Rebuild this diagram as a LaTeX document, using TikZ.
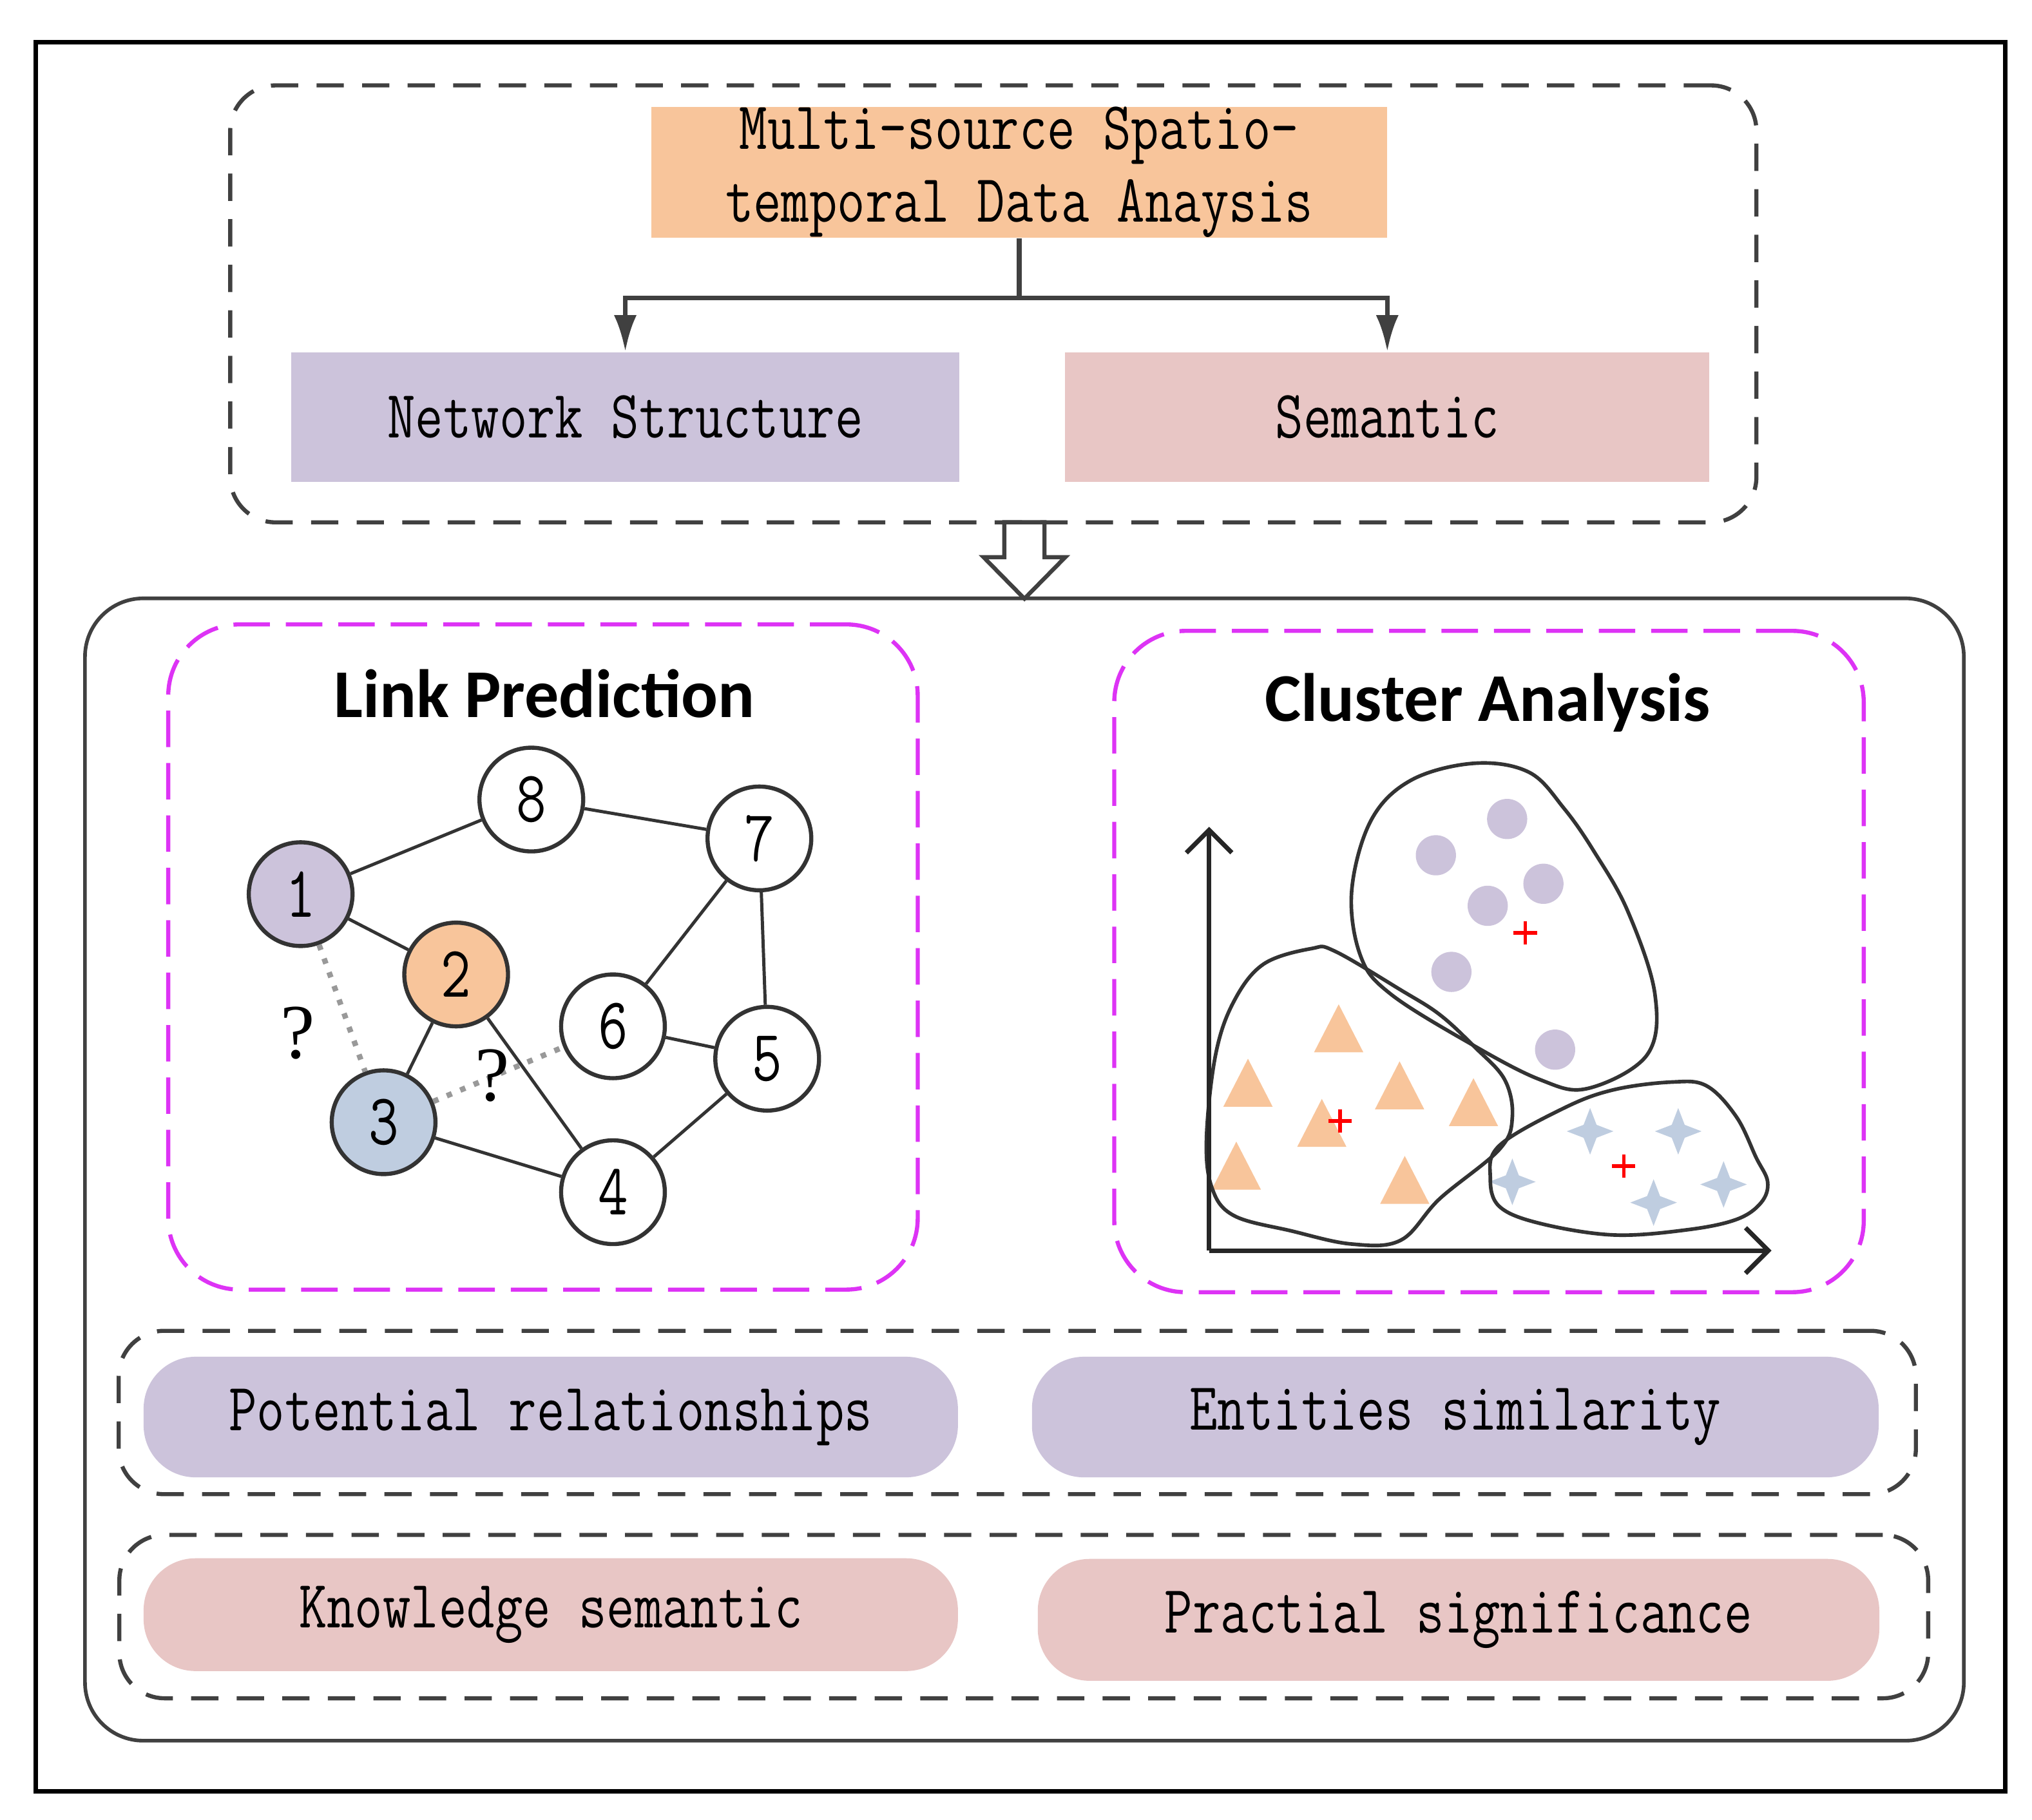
\documentclass[tikz,border=0pt]{standalone}
\usepackage{fontspec}
\usepackage{tikz}
\usetikzlibrary{arrows.meta}
\setmonofont[FakeStretch=0.8]{Latin Modern Mono}
\newfontfamily\headfont{Carlito}
\newfontfamily\askfont{Liberation Serif}
\definecolor{peach}{RGB}{248,197,155}
\definecolor{lilac}{RGB}{204,195,219}
\definecolor{rose}{RGB}{232,198,197}
\definecolor{skyblue}{RGB}{191,205,224}
\definecolor{edgegray}{RGB}{51,51,51}
\definecolor{dashgray}{RGB}{64,64,64}
\definecolor{magdash}{RGB}{221,51,245}
\newcommand{\boxfont}{\ttfamily\fontsize{14.9}{16}\selectfont}

\begin{document}
\begin{tikzpicture}[x=0.01cm,y=-0.01cm,
    frame/.style={draw=black,line width=1pt,inner sep=0pt},
    textbox/.style={inner sep=0pt,font=\boxfont,align=center},
    pill/.style={textbox,rounded corners=0.4cm},
    group/.style={draw=dashgray,line width=0.9pt,dash pattern=on 6pt off 4pt,rounded corners=0.35cm,inner sep=0pt},
    task/.style={draw=magdash,line width=0.9pt,dash pattern=on 8pt off 3.5pt,rounded corners=0.55cm,inner sep=0pt},
    vertex/.style={circle,draw=edgegray,line width=0.9pt,minimum size=0.8cm,inner sep=0pt,fill=white,font=\ttfamily\fontsize{16}{16}\selectfont},
    link/.style={draw=edgegray,line width=0.7pt},
    guess/.style={draw=gray!80,line width=1.2pt,dotted},
    branch/.style={draw=dashgray,line width=1pt,-{Latex[length=8pt,width=5pt]}},
    axis/.style={draw=black!85,line width=1pt,-{Straight Barb[length=5pt,width=10pt]}},
    blob/.style={draw=edgegray,line width=0.8pt},
    centroid/.style={red,line width=0.8pt},
    tri/.pic={\fill[peach] (-19,18) -- (19,18) -- (0,-19) -- cycle;},
    sparkle/.pic={\fill[skyblue] (0,-18) -- (5,-5) -- (18,0) -- (5,5) -- (0,18) -- (-5,5) -- (-18,0) -- (-5,-5) -- cycle;},
    plus/.pic={\draw[centroid] (-9,0) -- (9,0) (0,-9) -- (0,9);}
  ]
  \useasboundingbox (0,0) rectangle (1568,1404);
  \node[frame,minimum width=15.19cm,minimum height=13.49cm] (frame) at (787.5,707.5) {};

  % data sources
  \node[group,minimum width=11.77cm,minimum height=3.37cm] (source) at (766.5,234.5) {};
  \node[textbox,fill=peach,minimum width=5.67cm,minimum height=1cm] (data) at (786.5,133) {Multi-source Spatio-\\temporal Data Anaysis};
  \node[textbox,fill=lilac,minimum width=5.15cm,minimum height=1cm] (netw) at (482.5,322) {Network Structure};
  \node[textbox,fill=rose,minimum width=4.97cm,minimum height=1cm] (sem) at (1070.5,322) {Semantic};
  \coordinate (split) at (786.5,230);
  \draw[dashgray,line width=1pt] (data.south) -- (split);
  \draw[branch] (split) -| (netw.north);
  \draw[branch] (split) -| (sem.north);

  % methods
  \node[draw=dashgray,line width=0.8pt,rounded corners=0.45cm,inner sep=0pt,minimum width=14.49cm,minimum height=8.81cm] (result) at (790.5,902.5) {};
  \draw[dashgray,line width=0.9pt,fill=white] (775,403) -- (775,430) -- (759,430) -- (790.5,462) -- (822,430) -- (806,430) -- (806,403) -- cycle;

  \node[task,minimum width=5.78cm,minimum height=5.13cm] (linkbox) at (419,738.5) {};
  \node[font=\headfont\bfseries\fontsize{15}{18}\selectfont] (linktitle) at (420,535) {Link Prediction};
  \node[vertex,fill=lilac] (n1) at (232,690) {1};
  \node[vertex,fill=peach] (n2) at (352,752) {2};
  \node[vertex,fill=skyblue] (n3) at (296,866) {3};
  \node[vertex] (n4) at (473,920) {4};
  \node[vertex] (n5) at (592,817) {5};
  \node[vertex] (n6) at (473,792) {6};
  \node[vertex] (n7) at (586,647) {7};
  \node[vertex] (n8) at (410,617) {8};
  \draw[link] (n1) -- (n8);
  \draw[link] (n8) -- (n7);
  \draw[link] (n1) -- (n2);
  \draw[link] (n2) -- (n3);
  \draw[link] (n2) -- (n4);
  \draw[link] (n3) -- (n4);
  \draw[link] (n4) -- (n5);
  \draw[link] (n6) -- (n5);
  \draw[link] (n6) -- (n7);
  \draw[link] (n7) -- (n5);
  \draw[guess] (n1) -- (n3);
  \draw[guess] (n3) -- (n6);
  \node[font=\askfont\fontsize{17}{17}\selectfont] (q13) at (230,797) {?};
  \node[font=\askfont\fontsize{17}{17}\selectfont] (q36) at (380,830) {?};

  \node[task,minimum width=5.78cm,minimum height=5.10cm] (clusbox) at (1149,742) {};
  \node[font=\headfont\bfseries\fontsize{15}{18}\selectfont] (clustitle) at (1148,542) {Cluster Analysis};
  \fill[lilac] (1163,632) circle (0.155cm);
  \fill[lilac] (1108,660) circle (0.155cm);
  \fill[lilac] (1191,682) circle (0.155cm);
  \fill[lilac] (1148,699) circle (0.155cm);
  \fill[lilac] (1120,750) circle (0.155cm);
  \fill[lilac] (1200,810) circle (0.155cm);
  \pic at (1033,794) {tri};
  \pic at (963,836) {tri};
  \pic at (1080,838) {tri};
  \pic at (1137,851) {tri};
  \pic at (1020,867) {tri};
  \pic at (954,900) {tri};
  \pic at (1084,911) {tri};
  \pic at (1227,873) {sparkle};
  \pic at (1295,873) {sparkle};
  \pic at (1167,912) {sparkle};
  \pic at (1276,928) {sparkle};
  \pic at (1330,914) {sparkle};
  \pic at (1177,720) {plus};
  \pic at (1034,865) {plus};
  \pic at (1253,900) {plus};
  \draw[blob] plot[smooth cycle,tension=0.6] coordinates {(1138,589) (1180,596) (1207,624) (1230,657) (1256,703) (1277,767) (1271,814) (1225,840) (1188,833) (1134,805) (1073,767) (1050,738) (1043,688) (1058,633) (1089,602)};
  \draw[blob] plot[smooth cycle,tension=0.6] coordinates {(1012,732) (1030,734) (1081,764) (1111,783) (1138,808) (1161,833) (1167,862) (1157,887) (1111,925) (1081,957) (1043,960) (997,950) (952,938) (935,916) (931,878) (938,814) (952,773) (975,744)};
  \draw[blob] plot[smooth cycle,tension=0.6] coordinates {(1290,835) (1317,838) (1340,862) (1355,893) (1364,912) (1359,928) (1340,941) (1302,949) (1245,953) (1188,944) (1157,931) (1150,909) (1157,884) (1207,855) (1245,841)};
  \coordinate (origin) at (933,965);
  \coordinate (ytip) at (933,638);
  \coordinate (xtip) at (1367,965);
  \draw[axis] (origin) -- (ytip);
  \draw[axis] (origin) -- (xtip);

  % findings
  \node[group,minimum width=13.86cm,minimum height=1.26cm] (struct) at (785,1090) {};
  \node[pill,fill=lilac,minimum width=6.28cm,minimum height=0.93cm] (pot) at (425,1093.5) {Potential relationships};
  \node[pill,fill=lilac,minimum width=6.53cm,minimum height=0.93cm] (ent) at (1123,1093.5) {Entities similarity};
  \node[group,minimum width=13.95cm,minimum height=1.26cm] (mean) at (790,1247.5) {};
  \node[pill,fill=rose,minimum width=6.28cm,minimum height=0.87cm] (know) at (425,1246) {Knowledge semantic};
  \node[pill,fill=rose,minimum width=6.49cm,minimum height=0.94cm] (prac) at (1125.5,1250) {Practial significance};
\end{tikzpicture}
\end{document}
